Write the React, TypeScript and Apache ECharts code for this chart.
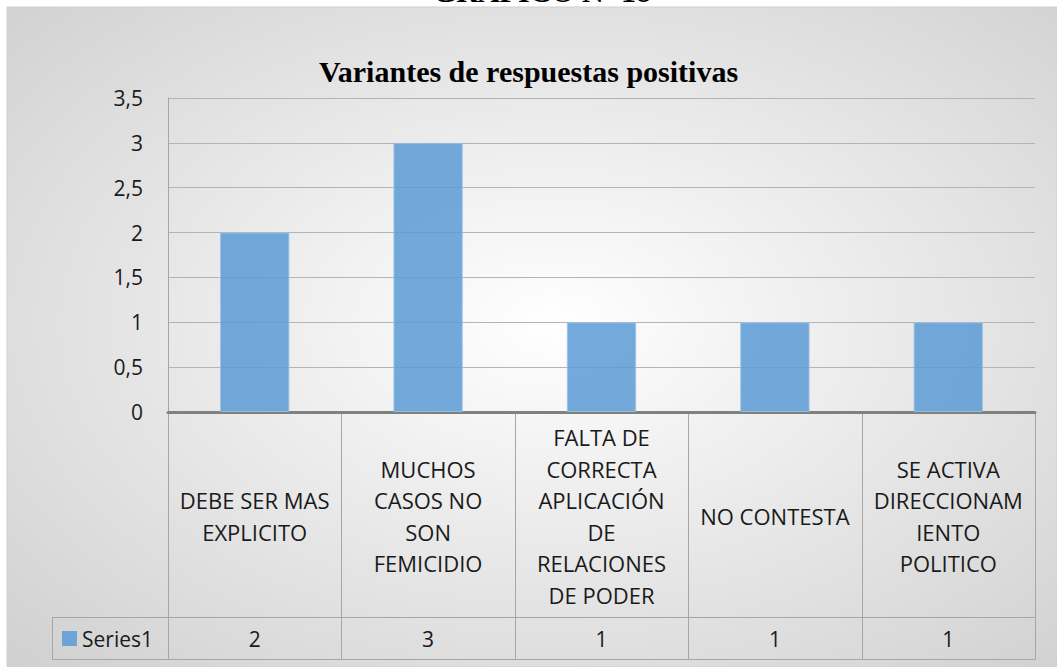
import React, { useEffect, useRef } from "react";
import * as echarts from "echarts";

const categories = [
  "DEBE SER MAS\nEXPLICITO",
  "MUCHOS\nCASOS NO\nSON\nFEMICIDIO",
  "FALTA DE\nCORRECTA\nAPLICACIÓN\nDE\nRELACIONES\nDE PODER",
  "NO CONTESTA",
  "SE ACTIVA\nDIRECCIONAM\nIENTO\nPOLITICO",
];
const seriesName = "Series1";
const values = [2, 3, 1, 1, 1];
const titleText = "Variantes de respuestas positivas";
const headerText = "GRAFICO Nº 18";
const yMin = 0;
const yMax = 3.5;
const yStep = 0.5;

const W = 1057;
const H = 667;
const plotLeft = 168;
const plotRight = 1035;
const plotTop = 98;
const plotBottom = 412;
const rowTop = 617;
const tableBottom = 659;
const tableLeft = 52;
const barColor = "#5B9BD5";
const lineColor = "#A6A6A6";
const font = "'Open Sans', 'Noto Sans', sans-serif";

export default function App() {
  const ref = useRef<HTMLDivElement>(null);
  useEffect(() => {
    if (!ref.current) return;
    const chart = echarts.init(ref.current, undefined, { renderer: "svg" });
    const colW = (plotRight - plotLeft) / categories.length;
    const tableEls: any[] = [];
    for (let i = 0; i <= categories.length; i++) {
      const x = Math.round(plotLeft + i * colW) + 0.5;
      tableEls.push({
        type: "line",
        shape: { x1: x, y1: plotBottom, x2: x, y2: tableBottom },
        style: { stroke: lineColor, lineWidth: 1 },
      });
    }
    tableEls.push({
      type: "line",
      shape: { x1: tableLeft, y1: rowTop + 0.5, x2: plotRight + 0.5, y2: rowTop + 0.5 },
      style: { stroke: lineColor, lineWidth: 1 },
    });
    tableEls.push({
      type: "line",
      shape: { x1: tableLeft, y1: tableBottom + 0.5, x2: plotRight + 0.5, y2: tableBottom + 0.5 },
      style: { stroke: lineColor, lineWidth: 1 },
    });
    tableEls.push({
      type: "line",
      shape: { x1: tableLeft + 0.5, y1: rowTop, x2: tableLeft + 0.5, y2: tableBottom + 0.5 },
      style: { stroke: lineColor, lineWidth: 1 },
    });
    values.forEach((v, i) => {
      tableEls.push({
        type: "text",
        x: plotLeft + (i + 0.5) * colW,
        y: (rowTop + tableBottom) / 2 + 1,
        style: {
          text: String(v),
          font: `21px ${font}`,
          fill: "#1a1a1a",
          align: "center",
          verticalAlign: "middle",
        },
      });
    });
    tableEls.push({
      type: "rect",
      shape: { x: 62, y: 631, width: 15, height: 15 },
      style: { fill: barColor, opacity: 0.85 },
    });
    tableEls.push({
      type: "text",
      x: 82,
      y: (rowTop + tableBottom) / 2 + 1,
      style: {
        text: seriesName,
        font: `21px ${font}`,
        fill: "#1a1a1a",
        align: "left",
        verticalAlign: "middle",
      },
    });

    chart.setOption({
      animation: false,
      backgroundColor: "#ffffff",
      graphic: [
        {
          type: "rect",
          z: -10,
          shape: { x: 7, y: 7, width: W - 7, height: H - 7 },
          style: {
            fill: new echarts.graphic.RadialGradient(0.52, 0.48, 0.95, [
              { offset: 0, color: "#ffffff" },
              { offset: 1, color: "#c2c2c2" },
            ]),
            stroke: "#d0d0d0",
            lineWidth: 1,
          },
        },
        {
          type: "text",
          x: 542,
          y: 6,
          style: {
            text: headerText,
            font: "bold 30px 'Liberation Serif', 'Times New Roman', serif",
            fill: "#000",
            align: "center",
            verticalAlign: "bottom",
          },
        },
        ...tableEls,
      ],
      title: {
        text: titleText,
        left: "center",
        top: 51,
        textStyle: {
          fontFamily: "'Liberation Serif', 'Times New Roman', serif",
          fontWeight: "bold",
          fontSize: 30,
          color: "#000",
        },
      },
      grid: {
        left: plotLeft,
        right: W - plotRight,
        top: plotTop,
        bottom: H - plotBottom,
        containLabel: false,
      },
      xAxis: {
        type: "category",
        data: categories,
        axisLine: { show: true, lineStyle: { color: "#808080", width: 3 } },
        axisTick: { show: false },
        axisLabel: {
          interval: 0,
          margin: 104,
          verticalAlign: "middle",
          align: "center",
          fontFamily: font,
          fontSize: 22,
          lineHeight: 31.5,
          color: "#1a1a1a",
        },
        splitLine: { show: false },
      },
      yAxis: {
        type: "value",
        min: yMin,
        max: yMax,
        interval: yStep,
        axisLine: { show: true, lineStyle: { color: "#A6A6A6", width: 1 } },
        axisTick: { show: false },
        axisLabel: {
          margin: 25,
          fontFamily: font,
          fontSize: 21,
          color: "#1a1a1a",
          formatter: (v: number) => String(v).replace(".", ","),
        },
        splitLine: { show: true, lineStyle: { color: "#B4B4B4", width: 1 } },
      },
      series: [
        {
          name: seriesName,
          type: "bar",
          data: values,
          barWidth: "40%",
          z: 1,
          itemStyle: {
            color: barColor,
            opacity: 0.85,
            borderColor: "#9DC3E6",
            borderWidth: 1,
          },
        },
      ],
    });
    return () => chart.dispose();
  }, []);
  return (
    <div
      ref={ref}
      style={{ position: "absolute", left: 0, top: 0, width: W, height: H }}
    />
  );
}
